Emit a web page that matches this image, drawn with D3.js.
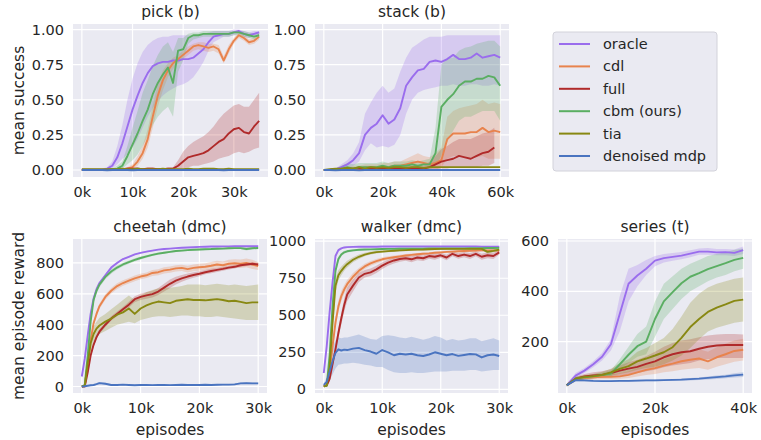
<!DOCTYPE html>
<html>
<head>
<meta charset="utf-8">
<script src="https://cdn.jsdelivr.net/npm/d3@7"></script>
<style>
  body { margin: 0; background: #fff; }
  text { font-family: "DejaVu Sans", sans-serif; fill: #262626; }
</style>
</head>
<body>
<div class="chart"></div>
<script>
//Config
var width = 761,
    height = 440;

var seriesNames = ["oracle", "cdl", "full", "cbm (ours)", "tia", "denoised mdp"];
var seriesKeys = ["oracle", "cdl", "full", "cbm", "tia", "dmdp"];
var seriesColors = ["#9a6ded", "#e8834d", "#b02a2a", "#5aae62", "#888812", "#4a74c0"];

//pick (b) : x in k episodes
var pickSteps = [0,1,2,3,4,5,6,7,8,9,10,11,12,13,14,15,16,17,18,19,20,21,22,23,24,25,26,27,28,29,30,31,32,33,34,35];
var pickMean = {
  oracle: [0,0,0,0,0,0.01,0.03,0.09,0.19,0.31,0.43,0.53,0.62,0.69,0.74,0.76,0.77,0.77,0.78,0.78,0.79,0.79,0.80,0.83,0.86,0.91,0.95,0.96,0.97,0.97,0.98,0.99,0.97,0.96,0.97,0.98],
  cdl:    [0,0,0,0,0,0,0,0,0.005,0.01,0.02,0.06,0.12,0.22,0.38,0.53,0.64,0.71,0.76,0.79,0.82,0.85,0.88,0.89,0.88,0.87,0.88,0.86,0.78,0.86,0.92,0.96,0.94,0.91,0.92,0.95],
  full:   [0,0,0,0,0,0,0.005,0.005,0.005,0.01,0.01,0.01,0.005,0.01,0.01,0.005,0.005,0.01,0.01,0.03,0.06,0.09,0.10,0.11,0.12,0.14,0.17,0.20,0.22,0.26,0.29,0.30,0.27,0.26,0.31,0.35],
  cbm:    [0,0,0,0,0,0,0.005,0.01,0.03,0.10,0.18,0.26,0.35,0.43,0.54,0.62,0.68,0.73,0.62,0.85,0.86,0.94,0.96,0.96,0.97,0.97,0.97,0.97,0.97,0.97,0.98,0.98,0.97,0.96,0.95,0.96],
  tia:    [0.005,0.005,0.005,0.005,0.005,0.005,0.005,0.005,0.01,0.005,0.005,0.01,0.005,0.005,0.005,0.005,0.01,0.005,0.005,0.005,0.005,0.01,0.005,0.005,0.01,0.01,0.01,0.005,0.005,0.01,0.005,0.005,0.005,0.005,0.005,0.005],
  dmdp:   [0,0,0,0,0,-0.002,0,0,0,0,-0.002,0,0,0,0,0,0,0,0,0,0,0,0,0,0,0,0,0,-0.002,0,0,0,0,0,0,0]
};
var pickLo = {
  oracle: [0,0,0,0,0,0,0.01,0.04,0.08,0.11,0.16,0.22,0.30,0.38,0.44,0.49,0.53,0.56,0.58,0.60,0.61,0.63,0.66,0.71,0.77,0.85,0.91,0.93,0.95,0.95,0.96,0.97,0.95,0.94,0.95,0.96],
  cdl:    [0,0,0,0,0,0,0,0,0,0,0.01,0.03,0.08,0.16,0.30,0.45,0.57,0.66,0.72,0.76,0.79,0.82,0.85,0.86,0.85,0.84,0.85,0.83,0.76,0.83,0.90,0.94,0.92,0.89,0.90,0.93],
  full:   [0,0,0,0,0,0,0,0,0,0,0,0,0,0,0,0,0,0,0,0,0.01,0.02,0.03,0.03,0.04,0.05,0.06,0.08,0.09,0.10,0.12,0.13,0.12,0.13,0.15,0.16],
  cbm:    [0,0,0,0,0,0,0,0,0.01,0.04,0.07,0.11,0.17,0.24,0.32,0.38,0.42,0.45,0.38,0.70,0.78,0.90,0.93,0.94,0.95,0.95,0.95,0.95,0.95,0.95,0.96,0.96,0.95,0.94,0.93,0.94]
};
var pickHi = {
  oracle: [0.01,0.01,0.01,0.01,0.01,0.02,0.06,0.17,0.32,0.50,0.65,0.76,0.84,0.89,0.92,0.94,0.95,0.95,0.96,0.96,0.96,0.96,0.96,0.96,0.97,0.98,0.99,0.99,0.99,0.99,1.0,1.0,0.99,0.98,0.99,0.99],
  cdl:    [0,0,0,0,0,0,0,0,0.01,0.02,0.04,0.10,0.17,0.29,0.46,0.61,0.71,0.76,0.80,0.82,0.85,0.88,0.90,0.91,0.91,0.90,0.90,0.89,0.81,0.89,0.94,0.98,0.96,0.93,0.94,0.97],
  full:   [0.01,0.01,0.01,0.01,0.01,0.01,0.01,0.01,0.01,0.02,0.02,0.02,0.01,0.02,0.02,0.01,0.01,0.02,0.02,0.07,0.13,0.17,0.20,0.22,0.24,0.27,0.31,0.36,0.40,0.43,0.46,0.47,0.45,0.45,0.50,0.55],
  cbm:    [0,0,0,0,0,0,0.01,0.03,0.06,0.17,0.30,0.42,0.55,0.64,0.74,0.82,0.88,0.91,0.84,0.94,0.94,0.97,0.98,0.98,0.99,0.99,0.99,0.99,0.99,0.99,0.99,0.99,0.99,0.98,0.97,0.98]
};

//stack (b)
var stackSteps = [0,2,4,6,8,10,12,14,16,18,20,22,24,26,28,30,32,34,36,38,40,42,44,46,48,50,52,54,56,58,60];
var stackMean = {
  oracle: [0,0,0.005,0.02,0.04,0.07,0.12,0.25,0.30,0.33,0.39,0.33,0.36,0.44,0.60,0.66,0.71,0.72,0.77,0.78,0.77,0.79,0.82,0.79,0.79,0.80,0.83,0.80,0.81,0.82,0.80],
  cdl:    [0,0,0,0.005,0.01,0.01,0.01,0.02,0.02,0.02,0.02,0.02,0.03,0.03,0.04,0.05,0.06,0.05,0.04,0.05,0.07,0.22,0.26,0.26,0.26,0.27,0.27,0.30,0.27,0.28,0.27],
  full:   [0,0,0,0.005,0.005,0.01,0.01,0.005,0.01,0.01,0.01,0.01,0.01,0.01,0.01,0.01,0.01,0.01,0.02,0.04,0.06,0.07,0.08,0.10,0.09,0.08,0.10,0.12,0.13,0.16,null],
  cbm:    [0,0,0.005,0.01,0.02,0.01,0.02,0.02,0.02,0.02,0.03,0.02,0.03,0.03,0.03,0.04,0.03,0.04,0.04,0.12,0.45,0.50,0.54,0.60,0.63,0.63,0.65,0.65,0.67,0.66,0.60],
  tia:    [0,0.005,0.01,0.01,0.015,0.01,0.02,0.01,0.02,0.015,0.02,0.015,0.02,0.02,0.015,0.02,0.02,0.015,0.02,0.02,0.02,0.02,0.02,0.02,0.02,0.02,0.02,0.02,0.02,0.02,0.02],
  dmdp:   [0,0,-0.003,0,0,0,-0.003,0,0,0,0,0,0,0,0,0,0,0,0,0,0,0,0,0,0,0,0,0,0,0,0]
};
var stackLo = {
  oracle: [0,0,0,0.005,0.01,0.03,0.06,0.14,0.19,0.16,0.17,0.16,0.18,0.25,0.40,0.50,0.55,0.57,0.58,0.59,0.60,0.60,0.61,0.60,0.60,0.61,0.61,0.60,0.60,0.61,0.60],
  cdl:    [0,0,0,0,0,0,0,0,0,0,0,0,0,0,0,0,0,0,0,0,0.02,0.08,0.10,0.10,0.09,0.09,0.09,0.10,0.08,0.08,0.08],
  full:   [0,0,0,0,0,0,0,0,0,0,0,0,0,0,0,0,0,0,0,0,0.01,0.01,0.02,0.02,0.02,0.02,0.02,0.03,0.03,0.05,null],
  cbm:    [0,0,0,0,0,0,0,0,0,0,0,0,0,0,0,0,0,0,0,0.03,0.10,0.20,0.28,0.35,0.38,0.38,0.40,0.42,0.42,0.42,0.35]
};
var stackHi = {
  oracle: [0.005,0.005,0.01,0.04,0.07,0.12,0.20,0.40,0.48,0.55,0.60,0.55,0.58,0.70,0.80,0.87,0.90,0.93,0.95,0.95,0.95,0.96,0.96,0.96,0.96,0.96,0.96,0.96,0.96,0.96,0.96],
  cdl:    [0,0,0.005,0.01,0.02,0.03,0.03,0.04,0.04,0.04,0.05,0.05,0.06,0.06,0.08,0.10,0.12,0.10,0.09,0.12,0.16,0.38,0.42,0.44,0.45,0.46,0.47,0.50,0.47,0.48,0.47],
  full:   [0.005,0.005,0.005,0.01,0.01,0.02,0.02,0.01,0.02,0.02,0.02,0.02,0.02,0.02,0.03,0.03,0.03,0.03,0.06,0.10,0.15,0.17,0.20,0.22,0.22,0.22,0.24,0.26,0.27,0.30,null],
  cbm:    [0,0.005,0.01,0.03,0.05,0.04,0.05,0.05,0.05,0.05,0.06,0.05,0.06,0.06,0.06,0.07,0.06,0.07,0.08,0.30,0.75,0.80,0.80,0.85,0.87,0.88,0.90,0.91,0.92,0.92,0.88]
};

//cheetah (dmc)
var cheetahSteps = [0,0.5,1,1.5,2,2.5,3,4,5,6,7,8,9,10,11,12,13,14,15,16,17,18,19,20,21,22,23,24,25,26,27,28,29,30];
var cheetahMean = {
  oracle: [65,180,330,470,570,630,670,720,770,800,825,840,855,865,873,880,886,890,893,896,898,900,902,904,905,906,906,907,907,908,908,908,909,908],
  cdl:    [0,5,150,300,410,470,520,580,620,650,670,685,700,712,720,735,740,752,757,765,768,760,768,772,775,782,790,785,795,798,795,800,790,780],
  full:   [0,0,90,200,270,320,355,400,440,470,500,530,565,580,590,598,615,640,665,685,700,712,722,730,740,748,755,762,770,775,785,790,795,790],
  cbm:    [0,10,200,420,560,620,660,710,745,770,790,805,820,832,842,852,860,866,872,877,880,883,885,887,889,890,892,893,895,896,896,890,895,897],
  tia:    [0,5,150,280,340,375,395,420,440,465,480,505,470,505,525,540,550,545,540,555,560,565,560,560,558,562,566,560,552,555,548,540,545,545],
  dmdp:   [0,2,5,8,10,15,22,18,10,10,12,10,8,10,10,9,10,10,9,10,11,10,10,10,11,10,11,12,12,14,20,22,20,20]
};
var cheetahLo = {
  oracle: [55,165,310,450,555,618,660,712,762,793,819,835,850,861,869,876,883,887,890,893,895,897,899,901,902,903,903,904,904,905,905,905,906,905],
  cdl:    [0,0,130,280,392,452,502,562,602,632,652,667,682,694,702,716,721,732,737,745,748,738,746,750,752,758,766,760,770,772,768,772,760,755],
  full:   [0,0,75,185,255,305,340,385,425,455,485,512,545,560,568,576,592,615,638,660,678,692,704,714,726,734,742,750,758,764,774,780,784,780],
  cbm:    [0,2,180,400,540,602,643,694,730,757,778,794,810,823,834,845,853,860,866,871,874,877,879,881,883,884,886,887,889,890,890,880,888,891],
  tia:    [0,0,100,220,290,320,340,360,380,400,410,420,410,430,440,450,455,455,450,455,460,460,455,455,450,450,455,450,445,440,435,430,430,430],
  dmdp:   [0,0,2,4,5,9,15,12,6,6,7,6,5,6,6,5,6,6,5,6,6,6,6,6,6,6,6,7,7,8,14,16,14,14]
};
var cheetahHi = {
  oracle: [75,195,350,490,585,642,680,728,778,807,831,845,860,869,877,884,889,893,896,899,901,903,905,907,908,909,909,910,910,911,911,911,912,911],
  cdl:    [0,10,170,320,428,488,538,598,638,668,688,703,718,730,738,754,759,772,777,785,788,782,790,794,798,806,814,810,820,824,822,828,820,805],
  full:   [0,2,105,215,285,335,370,415,455,485,515,548,585,600,612,620,638,665,692,710,722,732,740,746,754,762,768,774,782,786,796,800,806,800],
  cbm:    [0,18,220,440,580,638,677,726,760,783,802,816,830,841,850,859,867,872,878,883,886,889,891,893,895,896,898,899,901,902,902,900,902,903],
  tia:    [0,10,190,330,390,420,445,470,500,530,560,590,560,590,610,625,635,640,640,645,650,660,660,660,655,660,665,660,655,660,655,650,655,660],
  dmdp:   [0,4,8,12,15,21,29,24,14,14,17,14,11,14,14,13,14,14,13,14,16,14,14,14,16,14,16,17,17,20,26,28,26,26]
};

//walker (dmc)
var walkerSteps = [0,0.5,1,1.5,2,2.5,3,3.5,4,5,6,7,8,9,10,11,12,13,14,15,16,17,18,19,20,21,22,23,24,25,26,27,28,29,30];
var walkerMean = {
  oracle: [110,290,520,720,900,940,952,958,960,962,963,963,963,963,964,964,964,964,964,964,964,964,964,964,964,964,964,964,964,964,964,963,963,963,963],
  cdl:    [20,30,120,290,450,560,630,675,710,760,800,830,850,865,878,886,892,898,904,908,912,915,918,922,925,928,930,932,934,936,937,938,938,938,937],
  full:   [20,25,70,170,270,380,480,570,640,700,755,780,790,810,835,855,870,880,885,878,890,885,900,895,905,890,915,900,910,900,915,895,905,900,925],
  cbm:    [20,25,230,560,800,880,910,925,932,938,942,944,945,946,947,948,948,949,949,950,950,950,951,951,951,952,952,952,952,953,953,953,954,954,955],
  tia:    [20,25,150,450,700,770,800,825,845,875,895,910,920,926,930,933,936,938,940,942,943,944,946,947,948,948,948,948,948,948,948,948,928,935,943],
  dmdp:   [30,50,120,190,245,270,262,268,265,275,280,265,255,240,265,250,230,240,235,240,230,225,235,250,240,230,238,226,232,238,236,215,230,235,225]
};
var walkerLo = {
  oracle: [100,270,495,700,888,932,946,953,955,958,959,959,959,959,960,960,960,960,960,960,960,960,960,960,960,960,960,960,960,960,960,959,959,959,959],
  cdl:    [15,20,95,255,410,520,595,645,682,735,780,812,834,850,865,874,881,888,895,899,904,907,910,914,917,920,922,924,926,928,929,930,930,930,929],
  full:   [15,18,55,145,240,345,440,525,595,660,725,755,765,785,812,835,850,862,868,858,872,866,882,875,888,872,898,882,892,880,898,875,885,880,910],
  cbm:    [15,18,200,520,770,862,898,915,924,931,936,939,940,941,942,943,943,944,944,945,945,945,946,946,946,947,947,947,947,948,948,948,949,949,950],
  tia:    [15,18,120,400,650,735,770,800,822,858,880,898,910,917,922,925,929,931,933,935,936,937,939,940,941,941,941,941,941,941,941,941,915,924,934],
  dmdp:   [20,30,60,100,140,165,170,175,175,180,175,165,160,150,150,130,115,110,110,115,110,110,115,120,120,120,125,125,125,130,130,120,125,130,130]
};
var walkerHi = {
  oracle: [120,310,545,740,912,948,958,963,965,966,967,967,967,967,968,968,968,968,968,968,968,968,968,968,968,968,968,968,968,968,968,967,967,967,967],
  cdl:    [25,40,145,325,490,600,665,705,738,785,820,848,866,880,891,898,903,908,913,917,920,923,926,930,933,936,938,940,942,944,945,946,946,946,945],
  full:   [25,32,85,195,300,415,520,615,685,740,785,805,815,835,858,875,890,898,902,898,908,904,918,915,922,908,932,918,928,920,932,915,925,920,940],
  cbm:    [25,32,260,600,830,898,922,935,940,945,948,949,950,951,952,953,953,954,954,955,955,955,956,956,956,957,957,957,957,958,958,958,959,959,960],
  tia:    [25,32,180,500,750,805,830,850,868,892,910,922,930,935,938,941,943,945,947,949,950,951,953,954,955,955,955,955,955,955,955,955,941,946,952],
  dmdp:   [40,80,200,280,330,350,345,350,350,360,370,355,340,335,360,365,360,350,345,355,345,335,345,360,350,330,340,330,335,345,345,325,335,345,330]
};

//series (t)
var seriesSteps = [0,2,4,6,8,10,12,14,16,18,20,22,24,26,28,30,32,34,36,38,40];
var seriesMean = {
  oracle: [27,65,85,110,140,190,310,430,463,490,522,532,537,542,550,558,558,555,556,553,564],
  cdl:    [27,50,55,58,60,60,62,68,78,88,95,105,113,122,128,133,122,138,150,163,168],
  full:   [27,53,62,66,68,75,85,93,100,112,122,138,150,158,162,172,180,185,187,187,187],
  cbm:    [27,53,58,62,67,73,110,148,182,200,290,360,397,432,458,472,488,500,512,525,533],
  tia:    [27,53,60,63,68,78,92,103,122,133,145,158,178,215,258,290,318,335,348,362,367],
  dmdp:   [27,47,46,44,43,43,44,44,45,46,46,47,48,49,51,53,56,59,62,66,69]
};
var seriesLo = {
  oracle: [22,55,75,98,125,165,240,360,420,465,500,515,522,528,535,545,545,543,543,540,548],
  cdl:    [22,44,48,50,52,52,53,56,62,68,72,78,82,88,92,95,88,100,110,120,125],
  full:   [22,45,52,55,57,60,65,70,75,82,88,98,105,110,115,125,130,135,135,135,135],
  cbm:    [22,45,50,54,58,62,90,115,140,150,220,290,330,370,400,420,440,455,465,480,490],
  tia:    [22,45,52,55,58,65,72,78,88,95,100,110,125,145,175,210,240,255,265,275,280],
  dmdp:   [24,43,42,41,40,40,41,41,42,43,43,44,44,45,46,48,50,52,55,58,60]
};
var seriesHi = {
  oracle: [32,75,95,122,155,210,380,490,505,525,540,548,552,556,563,570,572,568,568,566,578],
  cdl:    [32,56,62,66,68,70,74,82,95,108,118,130,142,155,162,170,160,178,192,205,212],
  full:   [32,60,72,78,82,90,105,118,128,142,160,180,195,205,210,218,225,228,230,230,228],
  cbm:    [32,60,66,70,76,85,130,180,230,260,360,430,460,490,510,525,540,548,555,565,570],
  tia:    [32,62,68,72,80,92,115,130,160,175,195,215,250,300,355,390,415,430,440,450,455],
  dmdp:   [30,51,50,48,47,47,48,48,49,50,50,51,52,54,56,58,62,66,69,74,78]
};

var pickYTicks = [0, 0.25, 0.5, 0.75, 1];
var cheetahYTicks = [0, 200, 400, 600, 800];
var walkerYTicks = [0, 250, 500, 750, 1000];
var seriesYTicks = [200, 400, 600];

var panels = [
  { title: "pick (b)", box: [73, 24, 268, 177], xDomain: [-1.75, 36.75], yDomain: [-0.05, 1.04],
    xTicks: [0, 10, 20, 30], yTicks: pickYTicks, yFormat: d3.format(".2f"),
    steps: pickSteps, mean: pickMean, lo: pickLo, hi: pickHi, ylabel: "mean success" },
  { title: "stack (b)", box: [315, 24, 509, 177], xDomain: [-3, 63], yDomain: [-0.05, 1.04],
    xTicks: [0, 20, 40, 60], yTicks: pickYTicks, yFormat: d3.format(".2f"),
    steps: stackSteps, mean: stackMean, lo: stackLo, hi: stackHi },
  { title: "cheetah (dmc)", box: [73, 239, 267, 393], xDomain: [-1.5, 31.5], yDomain: [-42, 955],
    xTicks: [0, 10, 20, 30], yTicks: cheetahYTicks, yFormat: d3.format("d"),
    steps: cheetahSteps, mean: cheetahMean, lo: cheetahLo, hi: cheetahHi,
    ylabel: "mean episode reward", xlabel: "episodes" },
  { title: "walker (dmc)", box: [315, 239, 508, 393], xDomain: [-1.5, 31.5], yDomain: [-25, 1015],
    xTicks: [0, 10, 20, 30], yTicks: walkerYTicks, yFormat: d3.format("d"),
    steps: walkerSteps, mean: walkerMean, lo: walkerLo, hi: walkerHi, xlabel: "episodes" },
  { title: "series (t)", box: [558, 239, 752, 393], xDomain: [-2, 42], yDomain: [-4, 608],
    xTicks: [0, 20, 40], yTicks: seriesYTicks, yFormat: d3.format("d"),
    steps: seriesSteps, mean: seriesMean, lo: seriesLo, hi: seriesHi, xlabel: "episodes" }
];

//Instance element
var svg = d3.select(".chart")
    .append("svg")
    .attr("width", width)
    .attr("height", height);

function drawPanel(p) {
  var x0 = p.box[0], y0 = p.box[1], x1 = p.box[2], y1 = p.box[3];
  var x = d3.scaleLinear().domain(p.xDomain).range([x0, x1]);
  var y = d3.scaleLinear().domain(p.yDomain).range([y1, y0]);

  var g = svg.append("g");

  g.append("rect")
    .attr("x", x0).attr("y", y0)
    .attr("width", x1 - x0).attr("height", y1 - y0)
    .style("fill", "#eaeaf2");

  //grid
  g.selectAll(".gx").data(p.xTicks).enter().append("line")
    .attr("x1", function (d) { return x(d); }).attr("x2", function (d) { return x(d); })
    .attr("y1", y0).attr("y2", y1)
    .style("stroke", "#fff").style("stroke-width", 1.2);
  g.selectAll(".gy").data(p.yTicks).enter().append("line")
    .attr("x1", x0).attr("x2", x1)
    .attr("y1", function (d) { return y(d); }).attr("y2", function (d) { return y(d); })
    .style("stroke", "#fff").style("stroke-width", 1.2);

  //axes (no domain line, seaborn style)
  var xAxis = g.append("g")
    .attr("transform", "translate(0," + y1 + ")")
    .call(d3.axisBottom(x).tickValues(p.xTicks).tickSize(0).tickPadding(10)
      .tickFormat(function (d) { return d + "k"; }));
  var yAxis = g.append("g")
    .attr("transform", "translate(" + x0 + ",0)")
    .call(d3.axisLeft(y).tickValues(p.yTicks).tickSize(0).tickPadding(9)
      .tickFormat(p.yFormat));
  [xAxis, yAxis].forEach(function (a) {
    a.select(".domain").remove();
    a.selectAll("text")
      .style("font-family", "DejaVu Sans")
      .style("font-size", "14.5px")
      .style("fill", "#262626");
  });

  var clipId = "clip" + x0 + "_" + y0;
  g.append("clipPath").attr("id", clipId)
    .append("rect").attr("x", x0).attr("y", y0)
    .attr("width", x1 - x0).attr("height", y1 - y0);

  var plot = g.append("g").attr("clip-path", "url(#" + clipId + ")");

  var area = d3.area()
    .defined(function (d) { return d[1] != null && d[2] != null; })
    .x(function (d) { return x(d[0]); })
    .y0(function (d) { return y(d[1]); })
    .y1(function (d) { return y(d[2]); });

  var line = d3.line()
    .defined(function (d) { return d[1] != null; })
    .x(function (d) { return x(d[0]); })
    .y(function (d) { return y(d[1]); });

  seriesKeys.forEach(function (k, i) {
    if (p.lo[k]) {
      var band = p.steps.map(function (s, j) { return [s, p.lo[k][j], p.hi[k][j]]; });
      plot.append("path")
        .attr("d", area(band))
        .style("fill", seriesColors[i])
        .style("fill-opacity", 0.25)
        .style("stroke", "none");
    }
  });
  seriesKeys.forEach(function (k, i) {
    var pts = p.steps.map(function (s, j) { return [s, p.mean[k][j]]; });
    plot.append("path")
      .attr("d", line(pts))
      .style("fill", "none")
      .style("stroke", seriesColors[i])
      .style("stroke-width", 1.9)
      .style("stroke-linejoin", "round");
  });

  g.append("text")
    .attr("x", (x0 + x1) / 2).attr("y", y0 - 7)
    .attr("text-anchor", "middle")
    .style("font-size", "15.5px")
    .text(p.title);

  if (p.ylabel) {
    g.append("text")
      .attr("transform", "translate(19," + ((y0 + y1) / 2) + ") rotate(-90)")
      .attr("text-anchor", "middle")
      .attr("dominant-baseline", "middle")
      .style("font-size", "15.5px")
      .text(p.ylabel);
  }
  if (p.xlabel) {
    g.append("text")
      .attr("x", (x0 + x1) / 2).attr("y", 435)
      .attr("text-anchor", "middle")
      .style("font-size", "15.5px")
      .text(p.xlabel);
  }
}

panels.forEach(drawPanel);

//Legend
var legend = svg.append("g").attr("transform", "translate(553,32)");
legend.append("rect")
  .attr("width", 164).attr("height", 139).attr("rx", 3)
  .style("fill", "#eaeaf2").style("stroke", "#d2d2da").style("stroke-width", 1);
seriesNames.forEach(function (name, i) {
  var ly = 12 + i * 22.4;
  legend.append("line")
    .attr("x1", 6).attr("x2", 37).attr("y1", ly).attr("y2", ly)
    .style("stroke", seriesColors[i]).style("stroke-width", 2);
  legend.append("text")
    .attr("x", 50).attr("y", ly)
    .attr("dominant-baseline", "central")
    .style("font-size", "14.5px")
    .text(name);
});
</script>
</body>
</html>
